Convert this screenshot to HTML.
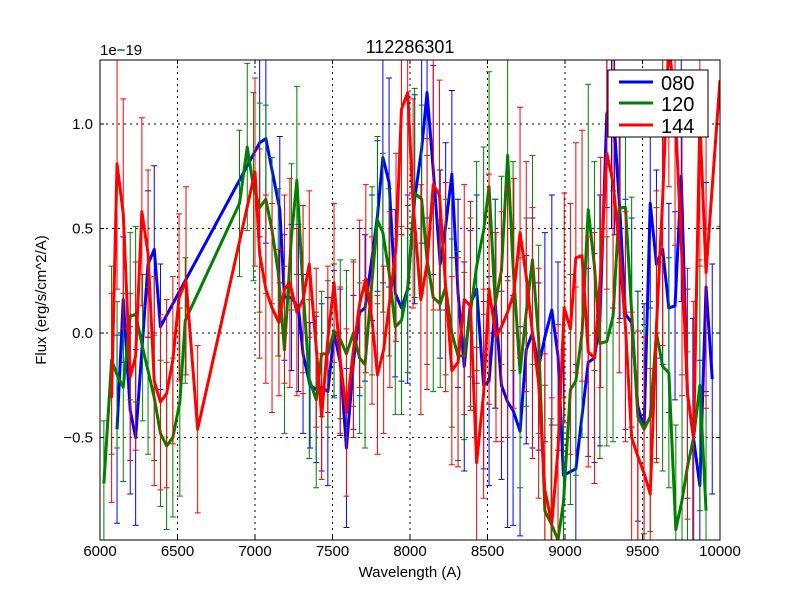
<!DOCTYPE html>
<html><head><meta charset="utf-8"><style>
html,body{margin:0;padding:0;background:#fff;overflow:hidden;width:800px;height:600px;}
svg{display:block;}
svg text{font-family:"Liberation Sans","DejaVu Sans",sans-serif;}
</style></head><body>
<svg id="chart" width="800" height="600" xmlns="http://www.w3.org/2000/svg">
<rect width="800" height="600" fill="#fff"/>
<defs><clipPath id="clip"><rect x="100" y="60" width="620" height="480"/></clipPath></defs>
<g id="grid"></g>
<g id="series" clip-path="url(#clip)"></g>
<rect x="100" y="60" width="620" height="480" fill="none" stroke="#000" stroke-width="1"/>
<g id="ticks"></g>
<text x="410" y="53" font-size="18" text-anchor="middle">112286301</text>
<text x="100" y="55" font-size="15">1e−19</text>
<text x="410" y="577" font-size="15" text-anchor="middle">Wavelength (A)</text>
<text transform="translate(46,300) rotate(-90)" font-size="15" text-anchor="middle">Flux (erg/s/cm^2/A)</text>
<g>
<rect x="608" y="70" width="100" height="67" fill="#fff" stroke="#000"/>
<g><line x1="619" y1="82" x2="653" y2="82" stroke="#0000ff" stroke-width="3"/><text x="661" y="90" font-size="20">080</text></g>
<g><line x1="619" y1="103" x2="653" y2="103" stroke="#008000" stroke-width="3"/><text x="661" y="111" font-size="20">120</text></g>
<g><line x1="619" y1="125" x2="653" y2="125" stroke="#ff0000" stroke-width="3"/><text x="661" y="133" font-size="20">144</text></g>
</g>
</svg>
<script>
const xTicks=[6000,6500,7000,7500,8000,8500,9000,9500,10000];
const xTickLabels=["6000","6500","7000","7500","8000","8500","9000","9500","10000"];
const yTicks=[-0.5,0,0.5,1.0];
const yTickLabels=["−0.5","0.0","0.5","1.0"];
const wl080=[6110,6150,6195,6230,6310,6350,6390,7030,7070,7160,7190,7235,7280,7310,7355,7395,7430,7470,7510,7550,7590,7635,7675,7710,7755,7790,7825,7865,7905,7945,7985,8030,8075,8110,8150,8195,8230,8270,8310,8350,8390,8430,8475,8510,8550,8590,8630,8665,8710,8750,8790,8830,8870,8915,8955,8990,9070,9150,9190,9225,9270,9300,9320,9355,9390,9430,9470,9510,9550,9590,9630,9670,9710,9750,9790,9825,9870,9910,9950];
const flux080=[-0.46,0.16,-0.37,-0.5,0.33,0.4,0.03,0.91,0.93,0.59,0.17,0.17,0.12,-0.1,-0.25,-0.27,-0.26,-0.28,0.0,-0.14,-0.55,-0.14,0.1,0.12,0.36,0.56,0.84,0.72,0.19,0.12,0.21,0.64,0.88,1.15,0.78,0.33,0.51,0.76,0.19,-0.16,0.14,0.21,-0.25,-0.23,0.14,-0.25,-0.33,-0.37,-0.47,-0.08,0.0,-0.16,-0.02,0.11,-0.11,-0.68,-0.65,-0.14,-0.12,0.06,1.05,1.1,0.97,0.57,0.09,0.05,-0.35,-0.46,0.62,0.33,0.4,0.12,0.13,0.75,-0.29,-0.48,-0.73,0.22,-0.22];
const err080=[0.45,0.3,0.4,0.42,0.35,0.4,0.3,0.45,0.5,0.35,0.3,0.35,0.4,0.38,0.3,0.35,0.4,0.45,0.3,0.35,0.38,0.32,0.4,0.35,0.3,0.36,0.6,0.5,0.4,0.35,0.45,0.5,0.45,0.6,0.5,0.45,0.4,0.4,0.45,0.5,0.35,0.45,0.4,0.5,0.5,0.45,0.6,0.55,0.5,0.45,0.55,0.4,0.5,0.55,0.45,0.6,0.5,0.45,0.5,0.6,0.45,0.6,0.5,0.5,0.55,0.5,0.55,0.6,0.5,0.45,0.55,0.5,0.45,0.6,0.5,0.55,0.6,0.5,0.55];
const wl120=[6025,6075,6110,6150,6195,6230,6275,6310,6350,6390,6430,6470,6515,6550,6900,6950,6990,7030,7070,7110,7150,7190,7235,7270,7310,7350,7395,7430,7470,7510,7550,7590,7635,7675,7710,7755,7790,7825,7865,7905,7945,7985,8030,8075,8110,8150,8195,8230,8270,8310,8350,8390,8430,8475,8510,8550,8590,8630,8665,8710,8750,8790,8830,8870,8910,8955,8990,9035,9070,9110,9150,9190,9225,9270,9310,9350,9390,9430,9470,9510,9550,9590,9630,9670,9715,9755,9790,9830,9870,9910];
const flux120=[-0.72,-0.13,-0.2,-0.26,0.08,0.09,-0.07,-0.18,-0.31,-0.48,-0.54,-0.5,-0.33,0.06,0.62,0.89,0.7,0.6,0.64,0.49,0.29,-0.08,0.46,0.73,0.21,-0.22,-0.32,-0.1,-0.1,0.01,-0.03,-0.1,0.0,-0.12,-0.15,0.25,0.54,0.48,0.29,0.03,0.06,0.21,0.67,0.64,0.35,0.17,0.14,0.22,0.0,-0.11,-0.11,0.1,0.32,0.49,0.7,0.14,0.3,0.85,0.32,-0.19,0.1,0.35,-0.03,-0.85,-0.91,-0.99,-0.81,-0.27,-0.23,0.0,0.59,0.32,-0.05,-0.04,0.08,0.6,0.6,0.1,-0.4,-0.46,-0.4,0.0,-0.16,-0.19,-0.94,-0.8,-0.64,-0.5,-0.25,-0.85];
const err120=[0.3,0.45,0.35,0.45,0.4,0.42,0.35,0.4,0.3,0.35,0.4,0.38,0.45,0.3,0.35,0.4,0.45,0.5,0.45,0.35,0.4,0.4,0.35,0.45,0.4,0.38,0.42,0.3,0.35,0.32,0.38,0.4,0.35,0.36,0.4,0.45,0.4,0.38,0.4,0.42,0.45,0.4,0.5,0.45,0.5,0.45,0.4,0.42,0.45,0.5,0.4,0.45,0.5,0.4,0.55,0.5,0.45,0.6,0.5,0.55,0.45,0.5,0.45,0.6,0.5,0.55,0.5,0.55,0.45,0.5,0.6,0.5,0.55,0.5,0.6,0.55,0.5,0.55,0.6,0.5,0.55,0.6,0.5,0.55,0.5,0.6,0.55,0.5,0.6,0.55];
const wl144=[6075,6110,6150,6195,6230,6270,6310,6350,6390,6430,6470,6510,6555,6630,7000,7030,7070,7110,7155,7190,7225,7270,7310,7350,7395,7430,7470,7510,7550,7590,7635,7675,7715,7755,7790,7830,7870,7910,7945,7985,8020,8070,8110,8150,8190,8230,8270,8310,8350,8390,8430,8475,8510,8555,8590,8630,8670,8710,8750,8790,8830,8870,8915,8955,8995,9035,9070,9110,9150,9190,9230,9270,9310,9350,9390,9430,9470,9510,9550,9590,9630,9670,9710,9755,9790,9830,9870,9910,10000];
const flux144=[-0.31,0.81,0.57,-0.21,-0.11,0.58,0.38,-0.23,-0.33,-0.29,-0.13,0.17,0.25,-0.46,0.77,0.38,0.21,0.12,0.05,0.21,0.24,0.1,0.16,0.33,-0.07,-0.4,-0.03,0.24,-0.13,-0.38,-0.08,0.14,0.26,0.06,-0.2,-0.08,0.16,0.41,1.07,1.15,0.62,0.16,0.33,0.71,0.66,0.22,-0.18,-0.14,0.16,0.13,-0.62,-0.29,0.21,-0.02,0.03,0.1,0.19,0.48,0.27,0.0,-0.24,-0.75,-0.91,-0.56,0.12,0.02,0.36,0.37,-0.09,-0.12,0.29,0.86,0.72,0.41,0.03,-0.5,-0.59,-0.67,-0.77,0.03,0.64,1.4,1.07,0.35,-0.29,-0.5,1.02,0.29,1.21];
const err144=[0.5,0.6,0.55,0.4,0.45,0.45,0.4,0.5,0.42,0.45,0.4,0.4,0.45,0.4,0.45,0.5,0.45,0.5,0.35,0.45,0.5,0.4,0.45,0.35,0.38,0.3,0.35,0.38,0.35,0.4,0.42,0.4,0.45,0.4,0.38,0.4,0.42,0.45,0.6,0.65,0.5,0.55,0.6,0.6,0.55,0.5,0.45,0.5,0.55,0.5,0.55,0.5,0.55,0.5,0.55,0.6,0.55,0.6,0.55,0.6,0.55,0.65,0.6,0.6,0.55,0.6,0.55,0.6,0.55,0.6,0.55,0.65,0.6,0.6,0.55,0.6,0.6,0.65,0.6,0.65,0.7,0.7,0.65,0.65,0.6,0.65,0.7,0.65,0.7];

const NS='http://www.w3.org/2000/svg';
const X0=100,X1=720,Y0=540,Y1=60,XMIN=6000,XMAX=10000,YMIN=-0.99,YMAX=1.306;
function xs(v){return X0+(v-XMIN)/(XMAX-XMIN)*(X1-X0);}
function ys(v){return Y0-(v-YMIN)/(YMAX-YMIN)*(Y0-Y1);}
function cl(p){return Math.max(Y1-1,Math.min(Y0+1,p));}
function mk(tag,attrs,parent){const e=document.createElementNS(NS,tag);for(const k in attrs)e.setAttribute(k,attrs[k]);parent.appendChild(e);return e;}
const grid=document.getElementById('grid'),ticks=document.getElementById('ticks'),ser=document.getElementById('series');
xTicks.forEach((t,i)=>{const x=xs(t);
 if(i>0&&i<xTicks.length-1){const g=mk('line',{x1:x,x2:x,y1:Y1,y2:Y0,stroke:'#000','stroke-dasharray':'2,4','stroke-width':1},grid);
 
 }
 mk('line',{x1:x,x2:x,y1:Y0,y2:Y0-4,stroke:'#000'},ticks);mk('line',{x1:x,x2:x,y1:Y1,y2:Y1+4,stroke:'#000'},ticks);
 const tl=mk('text',{x:x,y:556,'font-size':15,'text-anchor':'middle'},ticks);tl.textContent=xTickLabels[i];
 
 });
yTicks.forEach((t,i)=>{const y=ys(t);
 const g=mk('line',{x1:X0,x2:X1,y1:y,y2:y,stroke:'#000','stroke-dasharray':'2,4','stroke-width':1},grid);
 
 
 mk('line',{x1:X0,x2:X0+4,y1:y,y2:y,stroke:'#000'},ticks);mk('line',{x1:X1,x2:X1-4,y1:y,y2:y,stroke:'#000'},ticks);
 const tl=mk('text',{x:93,y:y+5,'font-size':15,'text-anchor':'end'},ticks);tl.textContent=yTickLabels[i];
 
 });
function draw(wl,fl,er,color,name){
 const g=mk('g',{},ser);
 
 
 wl.forEach((w,i)=>{const x=xs(w),ra=ys(fl[i]+er[i]),rb=ys(fl[i]-er[i]),a=cl(ra),b=cl(rb);
  let d=`M${x},${a}V${b}`;
  if(ra===a)d+=`M${x-3},${a}h6`;
  if(rb===b)d+=`M${x-3},${b}h6`;
  const e=mk('path',{d:d,stroke:color,'stroke-width':1,fill:'none'},g);
  
  });
 const p=mk('polyline',{points:wl.map((w,i)=>xs(w)+','+ys(fl[i])).join(' '),stroke:color,'stroke-width':3,fill:'none','stroke-linejoin':'round'},g);
 
 }
draw(wl080,flux080,err080,'#0000ff','080');
draw(wl120,flux120,err120,'#008000','120');
draw(wl144,flux144,err144,'#ff0000','144');
</script>
</body></html>
